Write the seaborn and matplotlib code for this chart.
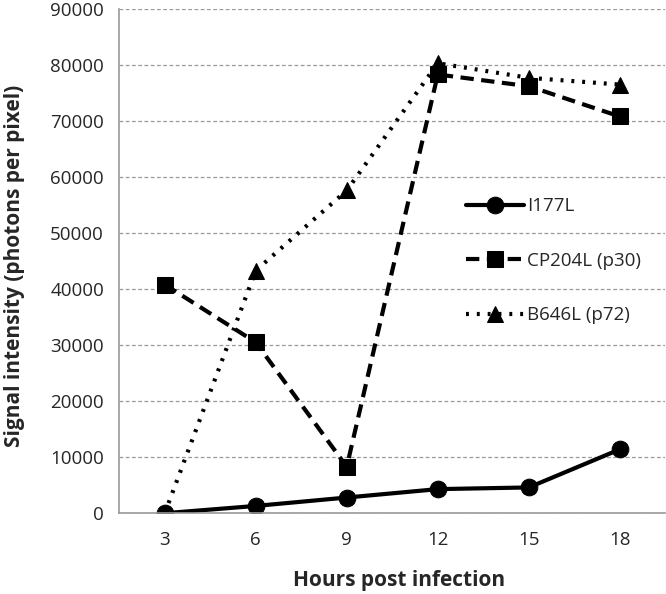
import matplotlib
matplotlib.use('Agg')
import matplotlib.pyplot as plt
import seaborn as sns
import pandas as pd
import numpy as np

# data
hours = ['3', '6', '9', '12', '15', '18']
i177l = [0, 1300, 2800, 4300, 4600, 11400]
cp204l = [40800, 30500, 8300, 78300, 76200, 70800]
b646l = [0, 43300, 57600, 80300, 77700, 76500]

sns.set_style('white')
plt.rcParams['font.family'] = ['Open Sans', 'DejaVu Sans']

fig = plt.figure(figsize=(6.66, 5.94), dpi=100)
ax = fig.add_axes([0.179, 0.136, 0.82, 0.849])

pos = np.arange(len(hours))
styles = [('I177L', i177l, '-', 'o'),
          ('CP204L (p30)', cp204l, (0, (3.2, 1.8)), 's'),
          ('B646L (p72)', b646l, (0, (0.7, 1.9)), '^')]
for name, vals, ls, mk in styles:
    sns.lineplot(x=pos, y=vals, ax=ax, color='black', linewidth=3.0,
                 linestyle=ls, marker=mk, markersize=12,
                 markeredgecolor='black', label=name)

ax.set_xlim(-0.5, len(hours) - 0.5)
ax.set_ylim(0, 90000)
ax.set_yticks(range(0, 90001, 10000))
ax.set_yticklabels([str(v) for v in range(0, 90001, 10000)], fontsize=13.5)
ax.set_xticks(pos)
ax.set_xticklabels(hours, fontsize=13.5)
ax.set_xticks(np.arange(-0.5, len(hours)), minor=True)
ax.tick_params(axis='x', which='major', length=0, pad=13)
ax.tick_params(axis='x', which='minor', length=6, color='#999999', width=1)
ax.tick_params(axis='y', length=6, color='#999999', width=1, direction='out', pad=5)
ax.yaxis.grid(True, linestyle=(0, (3, 2)), color='#999999', linewidth=0.9)
ax.xaxis.grid(False)
ax.set_axisbelow(True)

for s in ['top', 'right']:
    ax.spines[s].set_visible(False)
for s in ['left', 'bottom']:
    ax.spines[s].set_color('#999999')
    ax.spines[s].set_linewidth(1.2)

ax.set_xlabel('Hours post infection', fontsize=15, fontweight='bold')
ax.set_ylabel('Signal intensity (photons per pixel)', fontsize=15,
              fontweight='bold')
ax.xaxis.set_label_coords(0.513, -0.113)
ax.yaxis.set_label_coords(-0.172, 0.49)

ax.legend(loc='upper left', bbox_to_anchor=(0.604, 0.66), frameon=False,
          fontsize=13.5, labelspacing=1.95, handlelength=3.1, handletextpad=0.15)

fig.savefig('out.png', dpi=100)
